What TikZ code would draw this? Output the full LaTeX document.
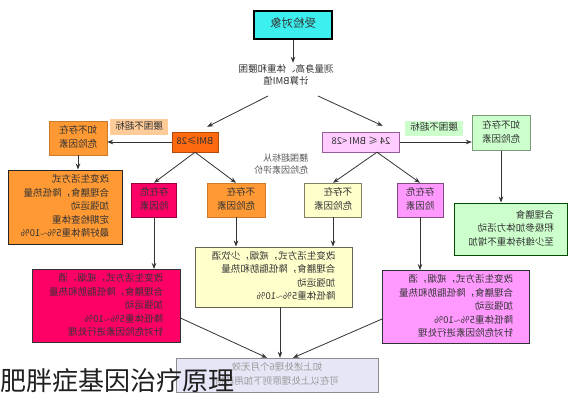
\documentclass[tikz,border=0pt]{standalone}
\usepackage{fontspec}
\setmainfont{Noto Sans CJK SC}
\usepackage{graphicx}
\usetikzlibrary{arrows.meta}
\definecolor{cyanbox}{HTML}{3CF0F0}
\definecolor{orD}{HTML}{FF6A10}
\definecolor{orM}{HTML}{FF9933}
\definecolor{orL}{HTML}{FFCC99}
\definecolor{crim}{HTML}{FF0066}
\definecolor{yel}{HTML}{FFFFCC}
\definecolor{pinkL}{HTML}{FFCCFF}
\definecolor{pinkM}{HTML}{FF99FF}
\definecolor{grn}{HTML}{CCFFCC}
\definecolor{lav}{HTML}{E6E6F6}
\definecolor{txt}{HTML}{333333}
\newcommand{\mt}[1]{\reflectbox{\begin{tabular}{@{}l@{}}#1\end{tabular}}}
\newcommand{\mtc}[1]{\reflectbox{\begin{tabular}{@{}c@{}}#1\end{tabular}}}
\tikzset{
  box/.style={draw, inner sep=0pt, align=center, text=txt,
    font=\fontsize{9.5}{13.5}\selectfont},
  arr/.style={draw=black!80, line width=0.8pt, -{Stealth[length=6pt,width=4.5pt]}},
}
\begin{document}
\begin{tikzpicture}[x=1pt,y=-1pt]
\useasboundingbox[fill=white] (0,0) rectangle (576,400);
% nodes
\node[box, fill=cyanbox, draw=black, line width=2.6pt, minimum width=78pt, minimum height=28pt,
  font=\fontsize{11.5}{14}\selectfont] (top) at (293,25) {\mt{受检对象}};
\node[inner sep=1pt, text=txt, font=\fontsize{9.5}{12}\selectfont] (meas) at (286,76)
  {\mtc{测量身高、体重和腰围\\计算BMI值}};
\coordinate (mL) at (268,96);
\coordinate (mR) at (318,96);

\node[box, fill=orD, draw=orD!70!black, minimum width=46pt, minimum height=20pt] (b28) at (195,142) {\mt{BMI≥28}};
\node[box, fill=orL, draw=none, minimum width=58pt, minimum height=16pt] (labL) at (139,127) {\mt{腰围不超标}};
\node[box, fill=orM, draw=orM!80!black, minimum width=58pt, minimum height=34pt] (ifL) at (78,138) {\mt{如不存在\\危险因素}};
\node[box, fill=orM, draw=black!85, line width=1pt, minimum width=114pt, minimum height=74pt] (bigO) at (65,207)
  {\mt{改变生活方式\\合理膳食，降低热量\\加强运动\\定期检查体重\\最好降体重5\%$\sim$10\%}};
\node[box, fill=crim, draw=crim!60!black, minimum width=45pt, minimum height=34pt] (crimS) at (154,200) {\mt{存在危\\险因素}};
\node[box, fill=orM, draw=orM!80!black, minimum width=58pt, minimum height=34pt] (orS) at (236,200) {\mt{不存在\\危险因素}};
\node[inner sep=0pt, text=black!65, font=\fontsize{9}{12}\selectfont] (mid) at (281,165) {\mt{腰围超标从\\危险因素评价}};

\node[box, fill=pinkL, draw=pinkM!60!black, minimum width=77pt, minimum height=20pt] (b24) at (361,142) {\mt{24 ≤ BMI <28}};
\node[box, fill=grn, draw=none, minimum width=58pt, minimum height=15pt] (labR) at (434,128) {\mt{腰围不超标}};
\node[box, fill=grn, draw=grn!60!black, minimum width=58pt, minimum height=35pt] (ifR) at (501,133) {\mt{如不存在\\危险因素}};
\node[box, fill=yel, draw=yel!50!black, minimum width=57pt, minimum height=34pt] (yelS) at (333,200) {\mt{不存在\\危险因素}};
\node[box, fill=pinkM, draw=pinkM!50!black, minimum width=46pt, minimum height=34pt] (pinkS) at (420,200) {\mt{存在危\\险因素}};
\node[box, fill=grn, draw=green!30!black, line width=0.9pt, minimum width=113pt, minimum height=52pt] (grnB) at (511,229)
  {\mt{合理膳食\\积极参加体力活动\\至少维持体重不增加}};

\node[box, fill=yel, draw=yel!40!black, line width=0.9pt, minimum width=157pt, minimum height=60pt] (yelB) at (273.5,277)
  {\mt{改变生活方式，戒烟，少饮酒\\合理膳食，降低脂肪和热量\\加强运动\\降低体重5\%$\sim$10\%}};
\node[box, fill=crim, draw=black!80, line width=0.9pt, minimum width=148pt, minimum height=73pt] (crimB) at (106,306)
  {\mt{改变生活方式，戒烟，酒\\合理膳食，降低脂肪和热量\\加强运动\\降低体重5\%$\sim$10\%\\针对危险因素进行处理}};
\node[box, fill=pinkM, draw=black!80, line width=0.9pt, minimum width=147pt, minimum height=73pt] (pinkB) at (456,307)
  {\mt{改变生活方式，戒烟，酒\\合理膳食，降低脂肪和热量\\加强运动\\降低体重5\%$\sim$10\%\\针对危险因素进行处理}};
\node[box, fill=lav, draw=black!45, text=black!40, minimum width=202pt, minimum height=34pt] (bottom) at (277,375)
  {\mtc{如上述处理6个月无效\\可在以上处理原则下加用药物}};

% connectors
\draw[arr] (top.south) -- (top.south |- meas.north);
\draw[arr] (mL) -- ([xshift=-11pt,yshift=5pt]b28.north east);
\draw[arr] (mR) -- ([xshift=-17pt,yshift=6pt]b24.north east);
\draw[arr] (b28.west) -- (b28.west -| ifL.east);
\draw[arr] (ifL.south) -- (ifL.south |- bigO.north);
\draw[arr] (b28.south) -- (crimS.north);
\draw[arr] (b28.south) -- (orS.north);
\draw[arr] (b24.east) -- (b24.east -| ifR.west);
\draw[arr] (ifR.south) -- (ifR.south |- grnB.north);
\draw[arr] ([xshift=16pt]b24.south) -- (yelS.north);
\draw[arr] ([xshift=16pt]b24.south) -- (pinkS.north);
\draw[arr] (crimS.south) -- (crimS.south |- crimB.north);
\draw[arr] (orS.south) -- (orS.south |- yelB.north);
\draw[arr] (yelS.south) -- (yelS.south |- yelB.north);
\draw[arr] (pinkS.south) -- (pinkS.south |- pinkB.north);
\draw[arr] ([yshift=-12pt]crimB.east) -- ([xshift=-10pt]bottom.north);
\draw[arr] ([xshift=6.5pt]yelB.south) -- ([xshift=6.5pt]yelB.south |- bottom.north);
\draw[arr] ([yshift=-12pt]pinkB.west) -- ([xshift=16pt]bottom.north);

% title
\node[anchor=base west, inner sep=0pt, text=black!88, font=\fontsize{26}{30}\selectfont] (title) at (0,390) {肥胖症基因治疗原理};
\end{tikzpicture}
\end{document}
